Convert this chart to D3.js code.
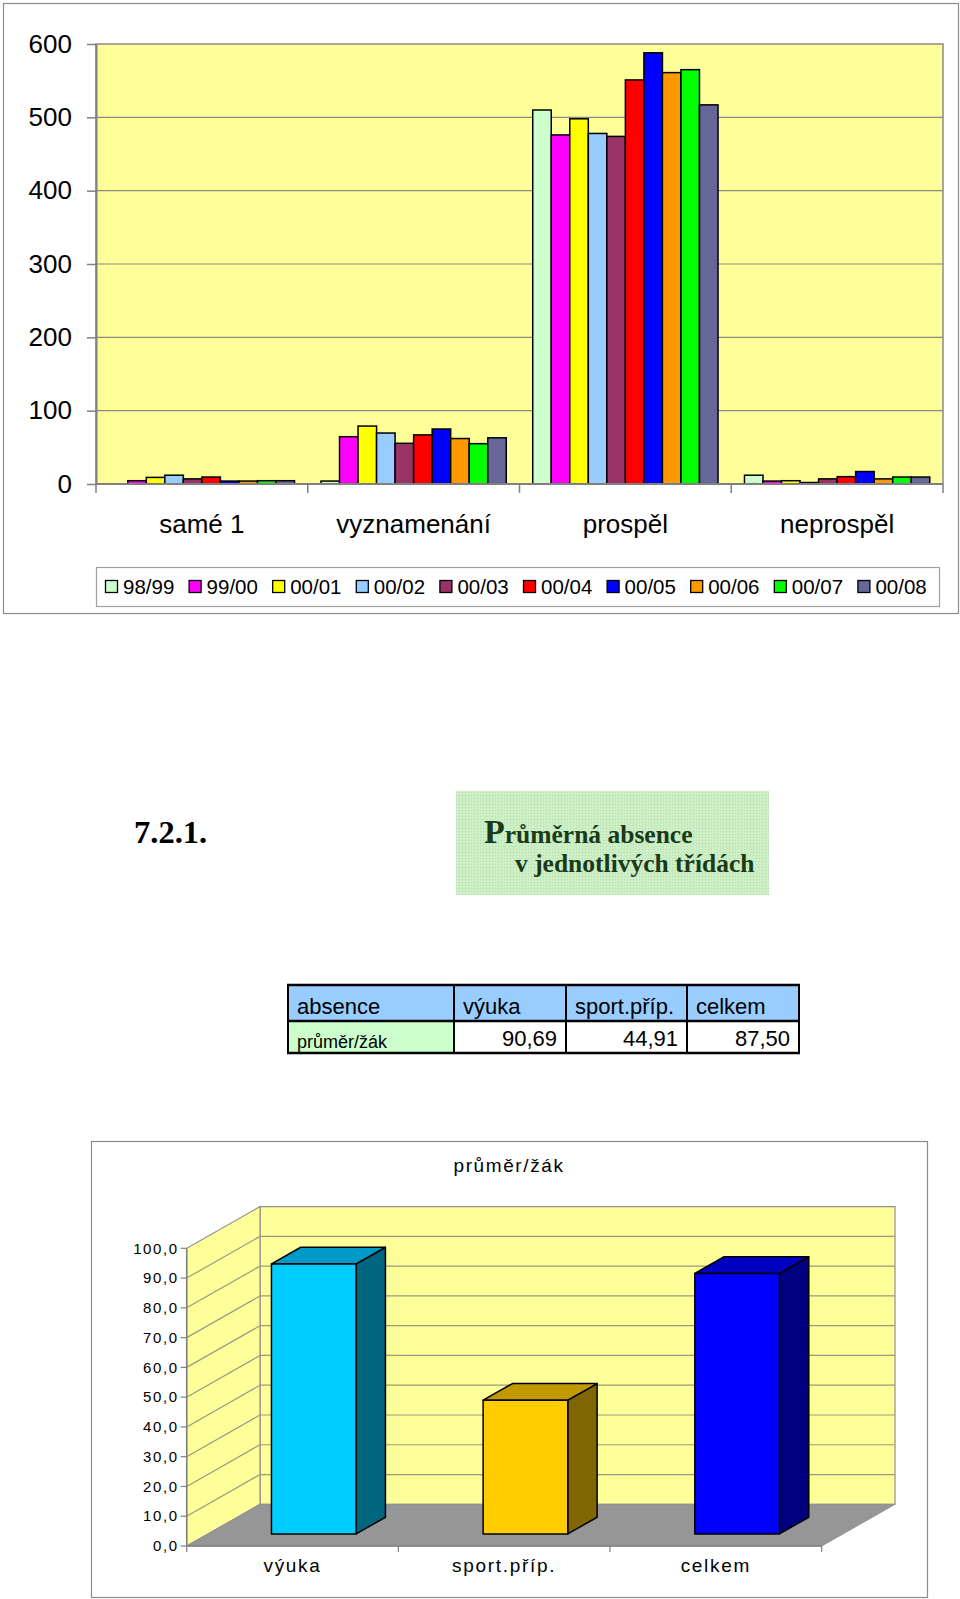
<!DOCTYPE html>
<html>
<head>
<meta charset="utf-8">
<script src="https://cdn.jsdelivr.net/npm/d3@7"></script>
<style>
  body { margin: 0; background: #fff; }
  svg { display: block; }
</style>
</head>
<body>
<script>
// ---------------- DATA ----------------
const categories = ["samé 1", "vyznamenání", "prospěl", "neprospěl"];
const seasons = ["98/99", "99/00", "00/01", "00/02", "00/03", "00/04", "00/05", "00/06", "00/07", "00/08"];
const s9899 = [0, 4, 510, 12];
const s9900 = [4.5, 64.5, 476, 4];
const s0001 = [9, 79, 498, 4.5];
const s0102 = [12, 69.5, 478, 2];
const s0203 = [7, 55.5, 474, 7];
const s0304 = [9.5, 67, 551, 10];
const s0405 = [4, 75, 588, 17];
const s0506 = [4, 62, 561, 7];
const s0607 = [4.5, 55, 565, 9.5];
const s0708 = [4.5, 63, 517, 9.5];
const seasonValues = [s9899, s9900, s0001, s0102, s0203, s0304, s0405, s0506, s0607, s0708];
const seasonColors = ["#CCFFCC", "#FF00FF", "#FFFF00", "#99CCFF", "#993366", "#FF0000", "#0000FF", "#FF9900", "#00FF00", "#666699"];
const yTicks = [0, 100, 200, 300, 400, 500, 600];

const sectionNumber = "7.2.1.";
const sectionTitle1 = "Průměrná absence";
const sectionTitle2 = "v jednotlivých třídách";

const tableHeader = ["absence", "výuka", "sport.příp.", "celkem"];
const rowLabel = "průměr/žák";
const absCategories = ["výuka", "sport.příp.", "celkem"];
const absValues = [90.69, 44.91, 87.50];
const absTicks = [0, 10, 20, 30, 40, 50, 60, 70, 80, 90, 100];
const absFrontColors = ["#00CCFF", "#FFCC00", "#0000FF"];
const absTopColors = ["#0099C8", "#C09A00", "#0000C0"];
const absSideColors = ["#006680", "#806600", "#000080"];
const absTitle = "průměr/žák";

// ---------------- SETUP ----------------
const W = 960, H = 1599;
const SANS = "'Liberation Sans', Arial, sans-serif";
const SERIF = "'Liberation Serif', 'Times New Roman', serif";
const svg = d3.select("body").append("svg").attr("width", W).attr("height", H);
svg.append("rect").attr("width", W).attr("height", H).attr("fill", "#fff");
const comma = f => v => f(v).replace(".", ",");

// ---------------- CHART 1 ----------------
const c1 = svg.append("g");
c1.append("rect").attr("x", 3.5).attr("y", 3.5).attr("width", 955).attr("height", 610)
  .attr("fill", "#fff").attr("stroke", "#8c8c8c").attr("stroke-width", 1.2);

const x0 = d3.scaleBand().domain(categories).range([96, 943]).padding(0);
const x1 = d3.scaleBand().domain(seasons).range([0, x0.bandwidth()]).paddingInner(0).paddingOuter(0.714);
const y = d3.scaleLinear().domain([0, 600]).range([484, 44]);

c1.append("rect").attr("x", x0.range()[0]).attr("y", y(600))
  .attr("width", x0.range()[1] - x0.range()[0]).attr("height", y(0) - y(600))
  .attr("fill", "#FFFF99").attr("stroke", "#8a8a8a").attr("stroke-width", 1.5);

c1.append("g").selectAll("line").data(yTicks.filter(t => t > 0 && t < 600)).join("line")
  .attr("x1", x0.range()[0]).attr("x2", x0.range()[1])
  .attr("y1", d => y(d)).attr("y2", d => y(d))
  .attr("stroke", "#8a8a7a").attr("stroke-width", 1.2);

const yAxis = c1.append("g").attr("transform", `translate(${x0.range()[0]},0)`)
  .call(d3.axisLeft(y).tickValues(yTicks).tickSizeInner(9).tickSizeOuter(0).tickPadding(15).tickFormat(d3.format("d")));
yAxis.select(".domain").attr("stroke", "#808080").attr("stroke-width", 2);
yAxis.selectAll(".tick line").attr("stroke", "#808080").attr("stroke-width", 1.5);
yAxis.selectAll(".tick text").attr("font-family", SANS).attr("font-size", 26).attr("fill", "#000");

// bars
const groups = c1.append("g").selectAll("g").data(seasons).join("g")
  .attr("fill", (d, i) => seasonColors[i]);
groups.selectAll("rect").data((s, i) => categories.map((c, j) => ({ c, s, v: seasonValues[i][j] }))).join("rect")
  .attr("x", d => x0(d.c) + x1(d.s))
  .attr("width", x1.bandwidth())
  .attr("y", d => y(d.v))
  .attr("height", d => y(0) - y(d.v))
  .attr("stroke", "#000").attr("stroke-width", 1.5);

// x axis
const xAxis = c1.append("g").attr("transform", `translate(0,${y(0)})`);
xAxis.append("line").attr("x1", x0.range()[0]).attr("x2", x0.range()[1]).attr("stroke", "#808080").attr("stroke-width", 2);
const bounds = categories.map(c => x0(c)).concat([x0.range()[1]]);
xAxis.selectAll("line.tk").data(bounds).join("line").attr("class", "tk")
  .attr("x1", d => d).attr("x2", d => d).attr("y1", 0).attr("y2", 9)
  .attr("stroke", "#808080").attr("stroke-width", 1.5);
xAxis.selectAll("text").data(categories).join("text")
  .attr("x", d => x0(d) + x0.bandwidth() / 2).attr("y", 49)
  .attr("text-anchor", "middle").attr("font-family", SANS).attr("font-size", 26).text(d => d);

// legend
const lg = c1.append("g");
lg.append("rect").attr("x", 96.5).attr("y", 567.5).attr("width", 843).attr("height", 39)
  .attr("fill", "#fff").attr("stroke", "#a0a0a0").attr("stroke-width", 1.2);
const li = lg.selectAll("g").data(seasons).join("g")
  .attr("transform", (d, i) => `translate(${105 + i * 83.6},0)`);
li.append("rect").attr("x", 0.5).attr("y", 580.5).attr("width", 12).attr("height", 12)
  .attr("fill", (d, i) => seasonColors[i]).attr("stroke", "#000").attr("stroke-width", 1.3);
li.append("text").attr("x", 18).attr("y", 593.5).attr("font-family", SANS).attr("font-size", 20.5).text(d => d);

// ---------------- SECTION HEADING ----------------
const defs = svg.append("defs");
const pat = defs.append("pattern").attr("id", "dots").attr("width", 3).attr("height", 3).attr("patternUnits", "userSpaceOnUse");
pat.append("rect").attr("width", 3).attr("height", 3).attr("fill", "#CCEFC6");
pat.append("rect").attr("width", 1).attr("height", 1).attr("fill", "#B4DCAE");

svg.append("text").attr("x", 134).attr("y", 843).attr("font-family", SERIF).attr("font-weight", "bold")
  .attr("font-size", 32.5).attr("fill", "#000").text(sectionNumber);
svg.append("rect").attr("x", 456).attr("y", 791).attr("width", 313).attr("height", 104).attr("fill", "url(#dots)");
const t1 = svg.append("text").attr("x", 484).attr("y", 843).attr("font-family", SERIF).attr("font-weight", "bold")
  .attr("font-size", 25.5).attr("fill", "#1a3a1a");
t1.append("tspan").attr("font-size", 34).text(sectionTitle1.charAt(0));
t1.append("tspan").text(sectionTitle1.slice(1));
svg.append("text").attr("x", 515).attr("y", 872).attr("font-family", SERIF).attr("font-weight", "bold")
  .attr("font-size", 25.5).attr("fill", "#1a3a1a").text(sectionTitle2);

// ---------------- TABLE ----------------
const colX = [288, 454, 566, 687, 799];
const rowY = [985, 1021, 1053];
const tb = svg.append("g");
tableHeader.forEach((h, i) => {
  tb.append("rect").attr("x", colX[i]).attr("y", rowY[0]).attr("width", colX[i + 1] - colX[i]).attr("height", rowY[1] - rowY[0])
    .attr("fill", "#99CCFF");
  tb.append("text").attr("x", colX[i] + 9).attr("y", 1014).attr("font-family", SANS).attr("font-size", 22).text(h);
});
tb.append("rect").attr("x", colX[0]).attr("y", rowY[1]).attr("width", colX[1] - colX[0]).attr("height", rowY[2] - rowY[1]).attr("fill", "#CCFFCC");
tb.append("text").attr("x", colX[0] + 9).attr("y", 1048).attr("font-family", SANS).attr("font-size", 18).text(rowLabel);
absValues.forEach((v, i) => {
  tb.append("rect").attr("x", colX[i + 1]).attr("y", rowY[1]).attr("width", colX[i + 2] - colX[i + 1]).attr("height", rowY[2] - rowY[1]).attr("fill", "#fff");
  tb.append("text").attr("x", colX[i + 2] - 9).attr("y", 1046).attr("text-anchor", "end")
    .attr("font-family", SANS).attr("font-size", 22).text(comma(d3.format(".2f"))(v));
});
// borders
colX.forEach(x => tb.append("line").attr("x1", x).attr("x2", x).attr("y1", rowY[0]).attr("y2", rowY[2]).attr("stroke", "#000").attr("stroke-width", 2));
rowY.forEach(yy => tb.append("line").attr("x1", colX[0] - 1).attr("x2", colX[4] + 1).attr("y1", yy).attr("y2", yy).attr("stroke", "#000").attr("stroke-width", 2.5));

// ---------------- CHART 2 (3D) ----------------
const c2 = svg.append("g");
c2.append("rect").attr("x", 91.5).attr("y", 1141.5).attr("width", 836).attr("height", 456)
  .attr("fill", "#fff").attr("stroke", "#8c8c8c").attr("stroke-width", 1.2);
c2.append("text").attr("x", 509).attr("y", 1172).attr("text-anchor", "middle").attr("font-family", SANS)
  .attr("font-size", 19).attr("letter-spacing", 1.6).text(absTitle);

const DX = 73.3, DY = -41.7;
const xs = d3.scaleBand().domain(absCategories).range([186.7, 821.7]).paddingInner(0.6).paddingOuter(0.3);
const ys = d3.scaleLinear().domain([0, 100]).range([1546, 1248.3]);
const X0 = xs.range()[0], X1 = xs.range()[1];
const P = (x, v, f) => [x + f * DX, ys(v) + f * DY];
const poly = pts => pts.map(p => p.join(",")).join(" ");

// back wall
c2.append("polygon").attr("points", poly([P(X0, 0, 1), P(X1, 0, 1), P(X1, 100, 1), P(X0, 100, 1)]))
  .attr("fill", "#FFFF99").attr("stroke", "#909090").attr("stroke-width", 1.2);
// left wall
c2.append("polygon").attr("points", poly([P(X0, 0, 0), P(X0, 0, 1), P(X0, 100, 1), P(X0, 100, 0)]))
  .attr("fill", "#FFFF99").attr("stroke", "#909090").attr("stroke-width", 1.2);
// floor
c2.append("polygon").attr("points", poly([P(X0, 0, 0), P(X1, 0, 0), P(X1, 0, 1), P(X0, 0, 1)]))
  .attr("fill", "#969696").attr("stroke", "#909090").attr("stroke-width", 1);
// gridlines
const gt = absTicks.filter(t => t > 0 && t < 100);
c2.append("g").selectAll("line").data(gt).join("line")
  .attr("x1", d => P(X0, d, 1)[0]).attr("y1", d => P(X0, d, 1)[1])
  .attr("x2", d => P(X1, d, 1)[0]).attr("y2", d => P(X1, d, 1)[1])
  .attr("stroke", "#9a9a80").attr("stroke-width", 1.2);
c2.append("g").selectAll("line").data(gt).join("line")
  .attr("x1", d => P(X0, d, 0)[0]).attr("y1", d => P(X0, d, 0)[1])
  .attr("x2", d => P(X0, d, 1)[0]).attr("y2", d => P(X0, d, 1)[1])
  .attr("stroke", "#9a9a80").attr("stroke-width", 1.2);

// value axis
c2.append("line").attr("x1", X0).attr("x2", X0).attr("y1", ys(0)).attr("y2", ys(100)).attr("stroke", "#808080").attr("stroke-width", 1.5);
c2.append("g").selectAll("line").data(absTicks).join("line")
  .attr("x1", X0 - 6).attr("x2", X0).attr("y1", d => ys(d)).attr("y2", d => ys(d)).attr("stroke", "#808080").attr("stroke-width", 1.2);
c2.append("g").selectAll("text").data(absTicks).join("text")
  .attr("x", X0 - 8).attr("y", d => ys(d)).attr("dy", "0.35em").attr("text-anchor", "end")
  .attr("font-family", SANS).attr("font-size", 15).attr("letter-spacing", 1.6)
  .text(comma(d3.format(".1f")));

// category axis
c2.append("line").attr("x1", X0).attr("x2", X1).attr("y1", ys(0)).attr("y2", ys(0)).attr("stroke", "#808080").attr("stroke-width", 1.5);
const step = xs.step();
const cb = absCategories.map((c, i) => X0 + i * step).concat([X1]);
c2.append("g").selectAll("line").data(cb).join("line")
  .attr("x1", d => d).attr("x2", d => d).attr("y1", ys(0)).attr("y2", ys(0) + 6).attr("stroke", "#808080").attr("stroke-width", 1.2);
c2.append("g").selectAll("text").data(absCategories).join("text")
  .attr("x", (d, i) => X0 + (i + 0.5) * step).attr("y", 1572).attr("text-anchor", "middle")
  .attr("font-family", SANS).attr("font-size", 19).attr("letter-spacing", 1.7).text(d => d);

// 3D bars
const F1 = 0.29, F2 = 0.69;
const bars = c2.append("g").selectAll("g").data(absCategories).join("g");
bars.each(function (c, i) {
  const g = d3.select(this);
  const xl = xs(c), xr = xs(c) + xs.bandwidth(), v = absValues[i];
  g.append("polygon").attr("points", poly([P(xr, 0, F1), P(xr, 0, F2), P(xr, v, F2), P(xr, v, F1)]))
    .attr("fill", absSideColors[i]).attr("stroke", "#000").attr("stroke-width", 1.5).attr("stroke-linejoin", "round");
  g.append("polygon").attr("points", poly([P(xl, v, F1), P(xr, v, F1), P(xr, v, F2), P(xl, v, F2)]))
    .attr("fill", absTopColors[i]).attr("stroke", "#000").attr("stroke-width", 1.5).attr("stroke-linejoin", "round");
  g.append("polygon").attr("points", poly([P(xl, 0, F1), P(xr, 0, F1), P(xr, v, F1), P(xl, v, F1)]))
    .attr("fill", absFrontColors[i]).attr("stroke", "#000").attr("stroke-width", 1.5).attr("stroke-linejoin", "round");
});
</script>
</body>
</html>
